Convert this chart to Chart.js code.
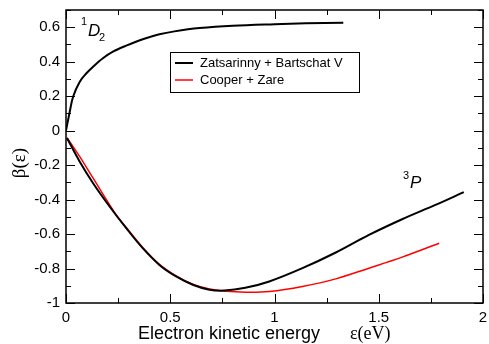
<!DOCTYPE html>
<html>
<head>
<meta charset="utf-8">
<script src="https://cdn.jsdelivr.net/npm/chart.js@4"></script>
<style>
  html, body { margin: 0; padding: 0; background: #fff; }
  #wrap { width: 489px; height: 344px; }
</style>
</head>
<body>
<div id="wrap"><canvas id="lineChart" width="489" height="344"></canvas></div>
<script>
// 1D2 curve (Zatsarinny + Bartschat V)
const d2X = [0, 0.018, 0.034, 0.066, 0.098, 0.13, 0.177, 0.225, 0.289, 0.368, 0.448, 0.52, 0.64, 0.80, 1.0, 1.15, 1.33];
const d2Y = [0, 0.11, 0.197, 0.284, 0.333, 0.371, 0.42, 0.458, 0.493, 0.53, 0.559, 0.576, 0.595, 0.609, 0.618, 0.623, 0.626];
// 3P curve (Zatsarinny + Bartschat V)
const p3X = [0.005, 0.066, 0.13, 0.209, 0.289, 0.368, 0.448, 0.528, 0.608, 0.688, 0.76, 0.86, 0.975, 1.134, 1.294, 1.453, 1.612, 1.772, 1.908];
const p3Y = [-0.044, -0.18, -0.305, -0.44, -0.566, -0.682, -0.779, -0.846, -0.894, -0.923, -0.928, -0.912, -0.875, -0.798, -0.707, -0.605, -0.514, -0.431, -0.357];
// Cooper + Zare
const czX = [0.005, 0.066, 0.13, 0.241, 0.289, 0.368, 0.448, 0.528, 0.608, 0.688, 0.76, 0.86, 0.975, 1.134, 1.294, 1.453, 1.612, 1.79];
const czY = [-0.04, -0.151, -0.276, -0.489, -0.562, -0.678, -0.776, -0.843, -0.891, -0.918, -0.93, -0.937, -0.933, -0.904, -0.86, -0.798, -0.734, -0.653];

const xTicks = [0, 0.5, 1, 1.5, 2];
const yTicks = [-1, -0.8, -0.6, -0.4, -0.2, 0, 0.2, 0.4, 0.6];
const seriesNames = ['Zatsarinny + Bartschat V', 'Cooper + Zare'];

const pts = (xs, ys) => xs.map((x, i) => ({ x: x, y: ys[i] }));

// frame, inward ticks, legend and labels in xmgrace style
const decor = {
  id: 'decor',
  afterDraw(chart) {
    const { ctx, chartArea: a, scales: { x, y } } = chart;
    ctx.save();
    ctx.strokeStyle = '#000';
    ctx.lineWidth = 1.5;
    ctx.strokeRect(a.left, a.top, a.right - a.left, a.bottom - a.top);
    ctx.lineWidth = 1;
    ctx.beginPath();
    for (let v = 0; v <= 2.0001; v += 0.25) {
      const px = Math.round(x.getPixelForValue(v)) + 0.5;
      const len = Math.abs(v / 0.5 - Math.round(v / 0.5)) < 1e-6 ? 9 : 5;
      ctx.moveTo(px, a.bottom); ctx.lineTo(px, a.bottom - len);
      ctx.moveTo(px, a.top); ctx.lineTo(px, a.top + len);
    }
    for (let v = -1; v <= 0.70001; v += 0.1) {
      const py = Math.round(y.getPixelForValue(v)) + 0.5;
      const len = Math.abs(v / 0.2 - Math.round(v / 0.2)) < 1e-6 ? 9 : 5;
      ctx.moveTo(a.left, py); ctx.lineTo(a.left + len, py);
      ctx.moveTo(a.right, py); ctx.lineTo(a.right - len, py);
    }
    ctx.stroke();

    // legend
    ctx.lineWidth = 1;
    ctx.strokeRect(170.5, 52.5, 189, 40);
    ctx.font = '13px "Liberation Sans", Arial, sans-serif';
    ctx.textBaseline = 'middle';
    ctx.fillStyle = '#000';
    const cols = ['#000', '#ff0000'];
    seriesNames.forEach((n, i) => {
      const ly = 63 + i * 17;
      ctx.strokeStyle = cols[i];
      ctx.lineWidth = i === 0 ? 2 : 1.5;
      ctx.beginPath(); ctx.moveTo(175, ly); ctx.lineTo(193, ly); ctx.stroke();
      ctx.fillText(n, 200, ly);
    });

    // curve labels
    ctx.textBaseline = 'alphabetic';
    ctx.font = '11px "Liberation Sans", Arial, sans-serif';
    ctx.fillText('1', 81, 25);
    ctx.fillText('2', 99, 41);
    ctx.fillText('3', 403, 179);
    ctx.font = 'italic 17px "Liberation Sans", Arial, sans-serif';
    ctx.fillText('D', 88, 36);
    ctx.fillText('P', 410, 188);

    // axis titles
    ctx.font = '18px "Liberation Sans", Arial, sans-serif';
    ctx.fillText('Electron kinetic energy', 138, 339);
    ctx.font = '18px "Liberation Serif", "Times New Roman", serif';
    ctx.fillText('\u03b5(eV)', 350, 339);
    ctx.translate(25, 163);
    ctx.rotate(-Math.PI / 2);
    ctx.textAlign = 'center';
    ctx.font = '19px "Liberation Serif", "Times New Roman", serif';
    ctx.fillText('\u03b2(\u03b5)', 0, 0);
    ctx.restore();
  }
};

const lineCtx = document.getElementById('lineChart').getContext('2d');

new Chart(lineCtx, {
  type: 'line',
  data: {
    datasets: [
      { label: seriesNames[0], data: pts(d2X, d2Y), borderColor: '#000', borderWidth: 2 },
      { label: seriesNames[0], data: pts(p3X, p3Y), borderColor: '#000', borderWidth: 2 },
      { label: seriesNames[1], data: pts(czX, czY), borderColor: '#ff0000', borderWidth: 1.5 }
    ]
  },
  options: {
    responsive: false,
    animation: false,
    parsing: false,
    elements: { point: { radius: 0 }, line: { tension: 0.35, capBezierPoints: true } },
    layout: { padding: { left: 0, right: 6, top: 10, bottom: 0 } },
    plugins: { legend: { display: false }, tooltip: { enabled: false } },
    scales: {
      x: {
        type: 'linear', min: 0, max: 2,
        grid: { display: false, drawTicks: false },
        border: { display: false },
        afterBuildTicks: s => { s.ticks = xTicks.map(v => ({ value: v })); },
        afterFit: s => { s.height = 41; s.paddingLeft = 0; s.paddingRight = 0; },
        ticks: {
          padding: 6, color: '#000', maxRotation: 0,
          font: { size: 15, family: '"Liberation Sans", Arial, sans-serif' },
          callback: v => String(v)
        }
      },
      y: {
        type: 'linear', min: -1, max: 0.7,
        grid: { display: false, drawTicks: false },
        border: { display: false },
        afterBuildTicks: s => { s.ticks = yTicks.map(v => ({ value: v })); },
        afterFit: s => { s.width = 66; s.paddingTop = 0; s.paddingBottom = 0; },
        ticks: {
          padding: 6, color: '#000',
          font: { size: 15, family: '"Liberation Sans", Arial, sans-serif' },
          callback: v => String(Math.round(v * 10) / 10)
        }
      }
    }
  },
  plugins: [decor]
});
</script>
</body>
</html>
